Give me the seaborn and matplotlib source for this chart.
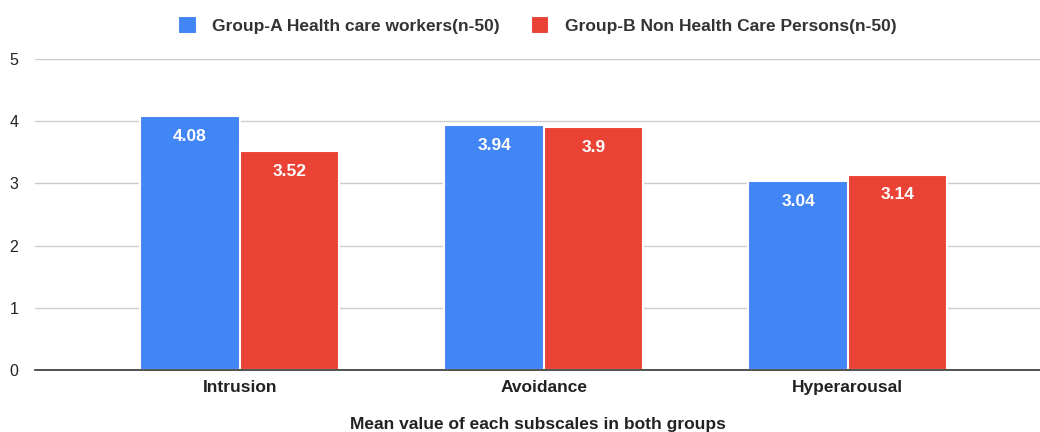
import matplotlib
matplotlib.use("Agg")
import matplotlib.pyplot as plt
import seaborn as sns
import pandas as pd

categories = ["Intrusion", "Avoidance", "Hyperarousal"]
group_a = [4.08, 3.94, 3.04]
group_b = [3.52, 3.90, 3.14]
series_names = ["Group-A Health care workers(n-50)", "Group-B Non Health Care Persons(n-50)"]
yticks = [0, 1, 2, 3, 4, 5]
labels_a = ["4.08", "3.94", "3.04"]
labels_b = ["3.52", "3.9", "3.14"]

sns.set_theme(style="white")
plt.rcParams['font.family'] = ['Liberation Sans', 'DejaVu Sans']

df = pd.DataFrame({
    "cat": categories * 2,
    "val": group_a + group_b,
    "grp": [series_names[0]] * 3 + [series_names[1]] * 3,
})

fig = plt.figure(figsize=(10.4, 4.32), dpi=100)
ax = fig.add_axes([35/1040, 1 - 370/432, (1040-35)/1040, (370-59)/432])
palette = {series_names[0]: "#4285F4", series_names[1]: "#EA4335"}
sns.barplot(data=df, x="cat", y="val", hue="grp", palette=palette, width=0.655,
            saturation=1, edgecolor="white", linewidth=1.5, ax=ax, legend=True)

ax.set_ylim(0, 5)
ax.set_xlim(-0.674, 2.632)
ax.set_yticks(yticks)
ax.set_yticklabels([str(t) for t in yticks], fontsize=11.5, color="#222222")
ax.grid(axis="y", color="#cccccc", linewidth=1)
ax.set_axisbelow(True)
for s in ["top", "right", "left"]:
    ax.spines[s].set_visible(False)
ax.spines["bottom"].set_color("#333333")
ax.spines["bottom"].set_linewidth(1.2)
ax.tick_params(axis="y", length=0, pad=12)
ax.tick_params(axis="x", length=0, pad=7)
for lab in ax.get_xticklabels():
    lab.set_fontweight("bold")
    lab.set_fontsize(12.5)
    lab.set_color("#222222")
ax.set_xlabel("Mean value of each subscales in both groups", fontsize=12.5,
              fontweight="bold", color="#222222", labelpad=16)
ax.set_ylabel("")

for container, labs in zip(ax.containers, [labels_a, labels_b]):
    ax.bar_label(container, labels=labs, label_type="edge", padding=-20,
                 color="white", fontweight="bold", fontsize=12.5)

leg = ax.legend(loc="lower center", bbox_to_anchor=(0.5, 1.03), ncol=2, frameon=False,
                fontsize=12.5, handlelength=1.05, handleheight=1.25, columnspacing=1.8,
                handletextpad=0.9)
for t in leg.get_texts():
    t.set_fontweight("bold")
    t.set_color("#333333")

fig.savefig("out.png", dpi=100)
